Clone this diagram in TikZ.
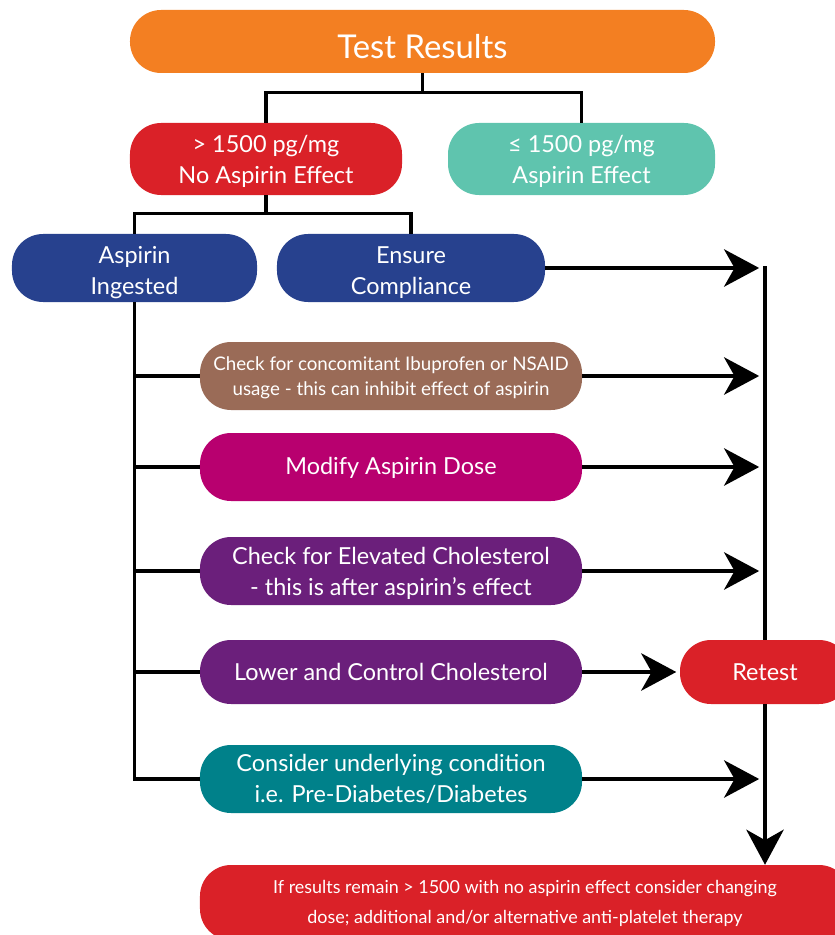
\documentclass[tikz,border=0pt]{standalone}
\usepackage{fontspec}
\setmainfont{Lato}
\usetikzlibrary{arrows.meta}

\definecolor{resorange}{HTML}{F37F22}
\definecolor{resred}{HTML}{DA2128}
\definecolor{resmint}{HTML}{5FC4AE}
\definecolor{resblue}{HTML}{27418E}
\definecolor{resbrown}{HTML}{9A6B57}
\definecolor{resmagenta}{HTML}{B8006F}
\definecolor{respurple}{HTML}{6B1F7B}
\definecolor{resteal}{HTML}{00818A}

% strut on the first line, to sit the text a little lower
\newcommand{\padtop}[1]{\rule{0pt}{#1}}

\tikzset{
  pill/.style={rounded corners=26.5pt, text=white, align=center, inner sep=0pt,
    font=\fontsize{20}{26.5}\selectfont},
  link/.style={line width=2.6pt},
  arr/.style={line width=2.6pt, -{Stealth[length=30pt,width=32pt,inset=9pt]}},
}

\begin{document}
\begin{tikzpicture}[x=0.03cm, y=-0.03cm]
\useasboundingbox (0,0) rectangle (834,935);

% Top level
\node[pill, fill=resorange, minimum width=17.55cm, minimum height=1.89cm,
  font=\fontsize{28}{32}\selectfont] (test) at (422.5,41.5) {\padtop{29pt}Test Results};

% Result split
\node[pill, fill=resred, minimum width=8.16cm, minimum height=2.16cm] (high) at (266,159)
  {\padtop{18pt}> 1500 pg/mg\\No Aspirin Effect};
\node[pill, fill=resmint, minimum width=8.01cm, minimum height=2.16cm] (low) at (581.5,159)
  {\padtop{18pt}≤ 1500 pg/mg\\Aspirin Effect};

% No effect branches
\node[pill, fill=resblue, minimum width=7.35cm, minimum height=2.04cm] (ingested) at (134.5,268)
  {\padtop{23pt}Aspirin\\Ingested};
\node[pill, fill=resblue, minimum width=8.04cm, minimum height=2.04cm] (ensure) at (411,268)
  {\padtop{23pt}Ensure\\Compliance};

% Checks
\node[pill, fill=resbrown, minimum width=11.46cm, minimum height=2.04cm,
  font=\fontsize{16}{22}\selectfont] (nsaid) at (391,376)
  {\padtop{15pt}Check for concomitant Ibuprofen or NSAID\\usage - this can inhibit effect of aspirin};
\node[pill, fill=resmagenta, minimum width=11.46cm, minimum height=2.04cm] (dose) at (391,467)
  {\padtop{17pt}Modify Aspirin Dose};
\node[pill, fill=respurple, minimum width=11.46cm, minimum height=2.04cm] (elevated) at (391,571)
  {\padtop{18pt}Check for Elevated Cholesterol\\- this is after aspirin’s effect};
\node[pill, fill=respurple, minimum width=11.46cm, minimum height=1.92cm] (lower) at (391,672)
  {Lower and Control Cholesterol};
\node[pill, fill=resteal, minimum width=11.46cm, minimum height=2.04cm] (underlying) at (391,779)
  {Consider underlying condition\\i.e. Pre-Diabetes/Diabetes};

% Retest and final advice
\node[pill, fill=resred, minimum width=5.1cm, minimum height=1.92cm] (retest) at (765,672)
  {Retest};
\node[pill, fill=resred, minimum width=19.5cm, minimum height=2.25cm,
  font=\fontsize{15.3}{25.5}\selectfont] (final) at (525,902.5)
  {\padtop{13.5pt}If results remain > 1500 with no aspirin effect consider changing\\dose; additional and/or alternative anti-platelet therapy};

% Tree lines
\draw[link] (test.south) -- ++(0,19) coordinate (splitA);
\draw[link] (high.north) |- (splitA) -| (low.north);
\draw[link] (high.south) -- ++(0,18) coordinate (splitB);
\draw[link] (ingested.north) |- (splitB) -| (ensure.north);

% Trunk from aspirin ingested
\draw[link] (ingested.south) |- (underlying.west);
\draw[link] (ingested.south |- nsaid.west) -- (nsaid.west);
\draw[link] (ingested.south |- dose.west) -- (dose.west);
\draw[link] (ingested.south |- elevated.west) -- (elevated.west);
\draw[link] (ingested.south |- lower.west) -- (lower.west);

% Rail to retest
\coordinate (railtop) at (765,266);
\draw[link] (railtop) -- (retest.north);
\draw[arr, shorten >=5pt] (ensure.east) -- (ensure.east -| railtop);
\draw[arr, shorten >=5pt] (nsaid.east) -- (nsaid.east -| railtop);
\draw[arr, shorten >=5pt] (dose.east) -- (dose.east -| railtop);
\draw[arr, shorten >=5pt] (elevated.east) -- (elevated.east -| railtop);
\draw[arr, shorten >=5pt] (underlying.east) -- (underlying.east -| railtop);
\draw[arr, shorten >=3pt] (lower.east) -- (retest.west);
\draw[arr] (retest.south) -- (retest.south |- final.north);

\end{tikzpicture}
\end{document}
